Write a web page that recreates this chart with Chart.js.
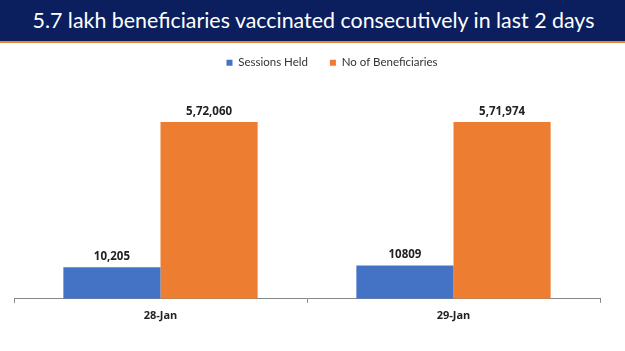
<!DOCTYPE html>
<html>
<head>
<meta charset="utf-8">
<script src="https://cdn.jsdelivr.net/npm/chart.js@4"></script>
<style>
    body { margin: 0; width: 625px; height: 351px; background: #fff; overflow: hidden; font-family: Lato, "Open Sans", sans-serif; }
    .title-bar {
        height: 41px;
        background: #0b1f5e;
        border-bottom: 2px solid #e8833a;
        color: #fff;
        font-size: 21.4px;
        line-height: 41px;
        text-align: center;
        padding-left: 2px;
        font-family: Lato, sans-serif;
    }
    .chart-wrap { position: relative; width: 625px; height: 308px; }
</style>
</head>
<body>
<div class="title-bar">5.7 lakh beneficiaries vaccinated consecutively in last 2 days</div>
<div class="chart-wrap"><canvas id="chart"></canvas></div>
<script>
const categories = ['28-Jan', '29-Jan'];
const sessionsHeld = [10205, 10809];
const beneficiaries = [572060, 571974];
const sessionsLabels = ['10,205', '10809'];
const beneficiariesLabels = ['5,72,060', '5,71,974'];

// draws the value above each bar
const valueLabels = {
    id: 'valueLabels',
    afterDatasetsDraw(chart) {
        const ctx = chart.ctx;
        ctx.save();
        ctx.font = 'bold 11.5px "Open Sans", sans-serif';
        ctx.fillStyle = '#222';
        ctx.textAlign = 'center';
        ctx.textBaseline = 'bottom';
        chart.data.datasets.forEach((dataset, i) => {
            chart.getDatasetMeta(i).data.forEach((bar, j) => {
                ctx.fillText(dataset.valueText[j], bar.x, bar.y - 5);
            });
        });
        ctx.restore();
    }
};

// legend sits a bit right of centre and higher in the original
const legendNudge = {
    id: 'legendNudge',
    beforeInit(chart) {
        const legend = chart.legend;
        const fit = legend.fit;
        legend.fit = function () {
            fit.bind(legend)();
            this.height -= 4;
        };
        const draw = legend.draw;
        legend.draw = function () {
            const ctx = chart.ctx;
            ctx.save();
            ctx.translate(25, -8);
            draw.bind(legend)();
            ctx.restore();
        };
    }
};

new Chart(document.getElementById('chart'), {
    type: 'bar',
    data: {
        labels: categories,
        datasets: [
            {
                label: 'Sessions Held',
                data: sessionsHeld,
                valueText: sessionsLabels,
                backgroundColor: '#4472c4',
                yAxisID: 'ySessions'
            },
            {
                label: 'No of Beneficiaries',
                data: beneficiaries,
                valueText: beneficiariesLabels,
                backgroundColor: '#ed7d31',
                yAxisID: 'y'
            }
        ]
    },
    options: {
        responsive: true,
        maintainAspectRatio: false,
        animation: false,
        categoryPercentage: 0.663,
        barPercentage: 1,
        layout: { padding: { left: 14, right: 25, top: 0, bottom: 23 } },
        plugins: {
            legend: {
                position: 'top',
                labels: {
                    boxWidth: 6,
                    boxHeight: 6,
                    padding: 22,
                    color: '#333',
                    font: { size: 11.5, family: 'Lato, sans-serif' }
                }
            },
            tooltip: { enabled: false }
        },
        scales: {
            x: {
                grid: { offset: true, drawOnChartArea: false, drawTicks: true, tickLength: 4, color: '#888' },
                border: { color: '#888' },
                ticks: { color: '#222', font: { size: 11, weight: 'bold', family: '"Open Sans", sans-serif' }, padding: 6 }
            },
            y: { display: false, min: 0, max: 700000 },
            ySessions: { display: false, min: 0, max: 70000 }
        }
    },
    plugins: [valueLabels, legendNudge]
});
</script>
</body>
</html>
